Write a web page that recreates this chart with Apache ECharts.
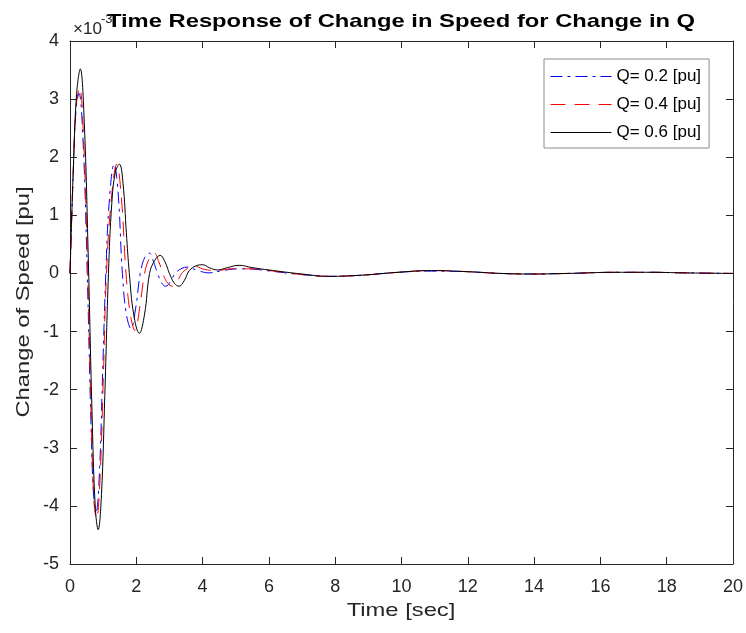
<!DOCTYPE html>
<html>
<head>
<meta charset="utf-8" />
<title>Time Response of Change in Speed</title>
<script src="https://cdn.jsdelivr.net/npm/echarts@6/dist/echarts.min.js"></script>
<style type="text/css">
body, html {
	margin: 0;
	padding: 0;
	background: #fff;
}
#main {
	width: 746px;
	height: 633px;
}
</style>
</head>
<body>
<div id="main"></div>
<script>
// values, in units of 1e-3 pu
let seriesNames = ['Q= 0.2 [pu]', 'Q= 0.4 [pu]', 'Q= 0.6 [pu]'];
let xTicks = [0, 2, 4, 6, 8, 10, 12, 14, 16, 18, 20];
let yTicks = [-5, -4, -3, -2, -1, 0, 1, 2, 3, 4];

let q02Data = [[0,0],[0.09,1.6],[0.18,2.8],[0.27,3.1],[0.4,2.2],[0.52,0],[0.63,-2.5],[0.71,-3.8],[0.79,-4.09],[0.89,-3.4],[0.99,-1.6],[1.08,0],[1.18,1.2],[1.33,1.88],[1.45,1.4],[1.58,0],[1.7,-0.7],[1.84,-0.95],[1.98,-0.6],[2.12,0],[2.25,0.27],[2.39,0.35],[2.52,0.2],[2.64,0],[2.77,-0.17],[2.89,-0.22],[3.05,-0.12],[3.2,0.02],[3.54,0.11],[3.85,0.05],[4.2,0.01],[4.6,0.05],[5.1,0.08],[5.6,0.07],[6.2,0.03],[7.0,-0.02],[7.8,-0.05],[8.8,-0.03],[9.9,0.02],[10.9,0.04],[12.0,0.03],[13.0,0.0],[13.9,-0.01],[15.0,0.0],[16.5,0.02],[17.5,0.02],[18.5,0.01],[20,0.0]];
let q04Data = [[0,0],[0.095,1.7],[0.19,2.9],[0.29,3.2],[0.41,2.3],[0.53,0.1],[0.64,-2.5],[0.72,-3.9],[0.8,-4.22],[0.9,-3.6],[1.0,-1.9],[1.1,0],[1.25,1.3],[1.41,1.88],[1.55,1.3],[1.69,0],[1.82,-0.7],[1.96,-0.98],[2.1,-0.6],[2.25,0],[2.4,0.27],[2.54,0.35],[2.68,0.2],[2.8,0],[2.95,-0.17],[3.09,-0.22],[3.25,-0.12],[3.4,0.02],[3.74,0.13],[4.05,0.07],[4.4,0.05],[4.9,0.08],[5.4,0.08],[6.0,0.05],[7.0,-0.02],[7.8,-0.05],[8.8,-0.03],[9.9,0.02],[10.9,0.05],[12.0,0.03],[13.0,0.0],[13.9,-0.01],[15.0,0.0],[16.5,0.02],[17.5,0.02],[18.5,0.01],[20,0.0]];
let q06Data = [[0,0],[0.1,1.8],[0.2,3.1],[0.31,3.52],[0.43,2.6],[0.55,0.3],[0.66,-2.3],[0.76,-4.0],[0.85,-4.41],[0.95,-3.8],[1.05,-2.1],[1.16,0],[1.26,1.2],[1.37,1.75],[1.49,1.88],[1.6,1.55],[1.7,0.7],[1.79,0],[1.92,-0.7],[2.09,-1.03],[2.25,-0.7],[2.4,0],[2.55,0.22],[2.72,0.31],[2.88,0.18],[3.0,0],[3.15,-0.17],[3.29,-0.22],[3.45,-0.12],[3.6,0.05],[3.8,0.13],[4.0,0.15],[4.2,0.1],[4.45,0.06],[4.75,0.1],[5.1,0.14],[5.5,0.1],[6.0,0.06],[7.0,-0.01],[7.8,-0.05],[8.8,-0.03],[9.9,0.02],[10.9,0.05],[12.0,0.03],[13.0,0.0],[13.9,-0.01],[15.0,0.0],[16.5,0.02],[17.5,0.02],[18.5,0.01],[20,0.0]];

let fontName = 'Liberation Sans, Arial, Helvetica, sans-serif';
let axisColor = '#262626';

let chart = echarts.init(document.getElementById('main'));

function frameAxis(pos, isX, withLabels) {
	return {
		type: 'value',
		position: pos,
		min: isX ? xTicks[0] : yTicks[0],
		max: isX ? xTicks[xTicks.length - 1] : yTicks[yTicks.length - 1],
		interval: isX ? 2 : 1,
		axisLine: { show: true, onZero: false, lineStyle: { color: axisColor, width: 1 } },
		axisTick: { show: true, inside: true, length: 7, lineStyle: { color: axisColor, width: 1 } },
		axisLabel: { show: withLabels, color: axisColor, fontSize: 18, fontFamily: fontName, margin: isX ? 14 : 11 },
		splitLine: { show: false }
	};
}

function lineSeries(name, data, color, dash) {
	return {
		name: name,
		type: 'line',
		data: data,
		smooth: 0.4,
		symbol: 'none',
		showSymbol: false,
		xAxisIndex: 0,
		yAxisIndex: 0,
		lineStyle: { color: color, width: 1, type: dash },
		itemStyle: { color: color },
		emphasis: { disabled: true },
		animation: false
	};
}

// the texts in the picture are wider than Arial, so they get a horizontal stretch
let wideText = 1.25;

chart.setOption({
	animation: false,
	backgroundColor: '#fff',
	graphic: [
		{ type: 'text', x: 401, y: 22, scaleX: wideText,
			style: { text: 'Time Response of Change in Speed for Change in Q', font: 'bold 19px ' + fontName, fill: '#000', align: 'center', verticalAlign: 'middle' } },
		{ type: 'text', x: 401, y: 611, scaleX: wideText,
			style: { text: 'Time [sec]', font: '19px ' + fontName, fill: axisColor, align: 'center', verticalAlign: 'middle' } },
		{ type: 'text', x: 24, y: 302, rotation: Math.PI / 2, scaleX: wideText,
			style: { text: 'Change of Speed [pu]', font: '19px ' + fontName, fill: axisColor, align: 'center', verticalAlign: 'middle' } },
		{ type: 'text', x: 73, y: 21, style: { text: '×10', font: '17px ' + fontName, fill: axisColor } },
		{ type: 'text', x: 101, y: 13, style: { text: '-3', font: '13px ' + fontName, fill: axisColor } }
	],
	grid: { left: 70, right: 13, top: 41, bottom: 69 },
	legend: {
		data: seriesNames,
		orient: 'vertical',
		left: 544,
		top: 59,
		padding: [9, 8, 7, 6],
		itemGap: 11,
		itemWidth: 61,
		itemHeight: 14,
		backgroundColor: '#fff',
		borderColor: '#8c8c8c',
		borderWidth: 1,
		borderRadius: 0,
		itemStyle: { opacity: 0 },
		lineStyle: { width: 1 },
		textStyle: { color: '#000', fontSize: 17, fontFamily: fontName },
		selectedMode: false
	},
	xAxis: [frameAxis('bottom', true, true), frameAxis('top', true, false)],
	yAxis: [frameAxis('left', false, true), frameAxis('right', false, false)],
	series: [
		lineSeries(seriesNames[0], q02Data, '#0000ff', [12, 5, 3, 5]),
		lineSeries(seriesNames[1], q04Data, '#ff0000', [15, 9]),
		lineSeries(seriesNames[2], q06Data, '#000000', 'solid')
	]
});
</script>
</body>
</html>
